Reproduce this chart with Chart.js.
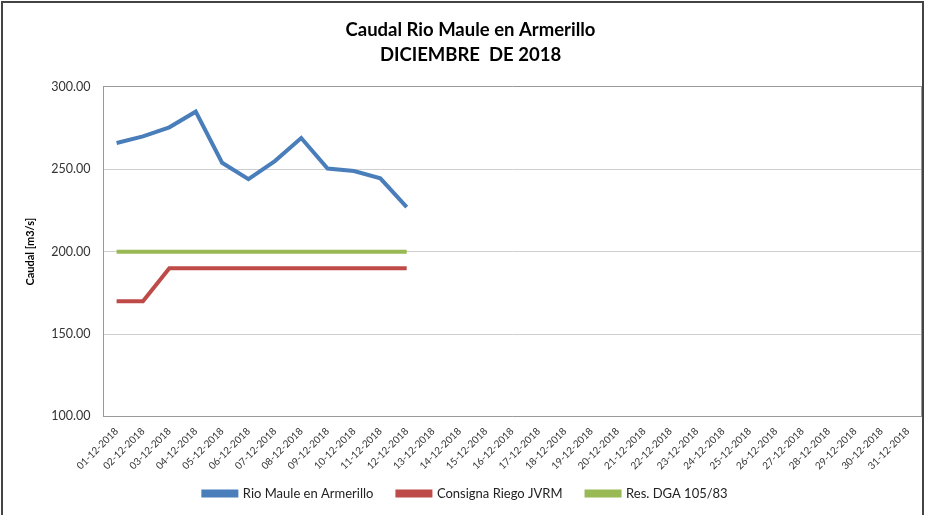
<!DOCTYPE html>
<html>
<head>
<meta charset="utf-8">
<script src="https://cdn.jsdelivr.net/npm/chart.js@4/dist/chart.umd.min.js"></script>
<style>
  body { margin: 0; background: #fff; }
  #frame { position: absolute; left: 1px; top: 1px; width: 923px; height: 530px;
           border: 2px solid #444; box-sizing: border-box; }
  #wrap { position: absolute; left: 0; top: 0; width: 919px; height: 507px; }
</style>
</head>
<body>
<div id="frame"><div id="wrap"><canvas id="myChart"></canvas></div></div>
<script>
var dias = [];
for (var d = 1; d <= 31; d++) {
    dias.push((d < 10 ? '0' + d : '' + d) + '-12-2018');
}
var rioMaule = [266, 270, 275.5, 285, 254, 244, 255, 269, 250.5, 249, 244.5, 227];
var consigna = [170, 170, 190, 190, 190, 190, 190, 190, 190, 190, 190, 190];
var resDGA = [200, 200, 200, 200, 200, 200, 200, 200, 200, 200, 200, 200];

var fuente = "Lato, 'Open Sans', sans-serif";

var ctx = document.getElementById('myChart').getContext('2d');
var chart = new Chart(ctx, {
    type: 'line',
    data: {
        labels: dias,
        datasets: [{
            label: 'Rio Maule en Armerillo',
            data: rioMaule,
            borderColor: 'rgb(74, 126, 187)',
            backgroundColor: 'rgb(74, 126, 187)',
            borderWidth: 4,
            pointRadius: 0,
            tension: 0
        }, {
            label: 'Consigna Riego JVRM',
            data: consigna,
            borderColor: 'rgb(190, 75, 72)',
            backgroundColor: 'rgb(190, 75, 72)',
            borderWidth: 4,
            pointRadius: 0
        }, {
            label: 'Res. DGA 105/83',
            data: resDGA,
            borderColor: 'rgb(152, 185, 84)',
            backgroundColor: 'rgb(152, 185, 84)',
            borderWidth: 4,
            pointRadius: 0
        }]
    },
    options: {
        responsive: true,
        maintainAspectRatio: false,
        animation: false,
        layout: { padding: { left: 17, right: 1, top: 8, bottom: 0 } },
        plugins: {
            title: {
                display: true,
                text: ['Caudal Rio Maule en Armerillo', 'DICIEMBRE  DE 2018'],
                color: '#000',
                font: { family: fuente, size: 18.5, weight: 'bold', lineHeight: 1.35 },
                padding: { top: 6.5, bottom: 19.5 }
            },
            legend: {
                position: 'bottom',
                labels: {
                    color: '#222',
                    boxWidth: 33,
                    boxHeight: 4,
                    padding: 14,
                    font: { family: fuente, size: 13 },
                    generateLabels: function(c) {
                        var items = Chart.defaults.plugins.legend.labels.generateLabels(c);
                        items.forEach(function(it) { it.text = it.text + '   '; });
                        return items;
                    }
                }
            },
            tooltip: { enabled: false }
        },
        scales: {
            x: {
                offset: true,
                grid: { display: false },
                border: { color: '#999' },
                ticks: {
                    minRotation: 45,
                    maxRotation: 45,
                    autoSkip: false,
                    padding: 1,
                    color: '#333',
                    font: { family: fuente, size: 10 }
                }
            },
            y: {
                min: 100,
                max: 300,
                grid: {
                    drawTicks: false,
                    color: function(c) { return c.tick && c.tick.value === 300 ? '#999' : '#cfcfcf'; }
                },
                border: { color: '#999' },
                title: {
                    display: true,
                    text: 'Caudal [m3/s]',
                    color: '#000',
                    padding: { top: 4, bottom: 1 },
                    font: { family: fuente, size: 11, weight: 'bold' }
                },
                ticks: {
                    stepSize: 50,
                    padding: 13,
                    color: '#333',
                    font: { family: fuente, size: 12.5 },
                    callback: function(v) { return v.toFixed(2); }
                }
            },
            y2: {
                position: 'right',
                min: 100,
                max: 300,
                grid: { display: false },
                border: { color: '#999' },
                ticks: { display: false },
                afterFit: function(s) { s.width = 0; }
            }
        }
    }
});
</script>
</body>
</html>
